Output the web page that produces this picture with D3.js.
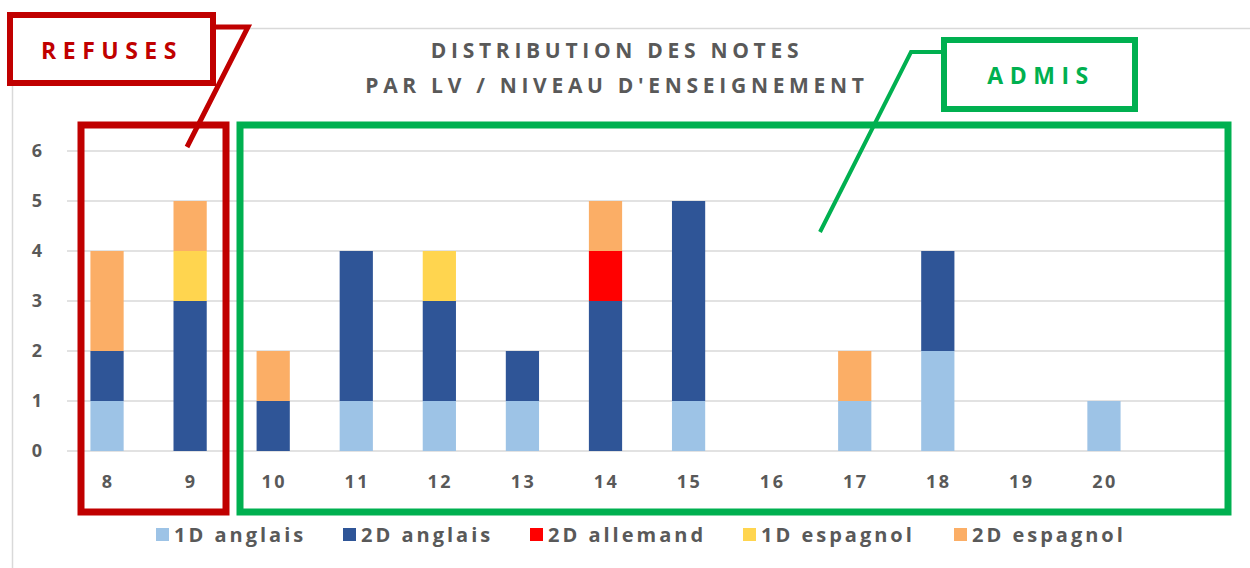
<!DOCTYPE html>
<html>
<head>
<meta charset="utf-8">
<script src="https://cdn.jsdelivr.net/npm/d3@7"></script>
<style>
  body { margin: 0; background: #fff; }
  svg { display: block; font-family: "Open Sans", sans-serif; }
  .tick-label { fill: #595959; font-weight: 700; }
</style>
</head>
<body>
<svg id="chart" width="1250" height="568"></svg>
<script>
// notes (x categories)
const notes = ["8", "9", "10", "11", "12", "13", "14", "15", "16", "17", "18", "19", "20"];
const seriesNames = ["1D anglais", "2D anglais", "2D allemand", "1D espagnol", "2D espagnol"];
const seriesColors = ["#9DC3E6", "#2F5597", "#FF0000", "#FFD54F", "#FBAE66"];

// counts per note, one array per series
const anglais1D  = [1, 0, 0, 1, 1, 1, 0, 1, 0, 1, 2, 0, 1];
const anglais2D  = [1, 3, 1, 3, 2, 1, 3, 4, 0, 0, 2, 0, 0];
const allemand2D = [0, 0, 0, 0, 0, 0, 1, 0, 0, 0, 0, 0, 0];
const espagnol1D = [0, 1, 0, 0, 1, 0, 0, 0, 0, 0, 0, 0, 0];
const espagnol2D = [2, 1, 1, 0, 0, 0, 1, 0, 0, 1, 0, 0, 0];

const yTicks = [0, 1, 2, 3, 4, 5, 6];

const titleLines = ["DISTRIBUTION DES NOTES", "PAR LV / NIVEAU D'ENSEIGNEMENT"];

function buildTable() {
  var cols = [anglais1D, anglais2D, allemand2D, espagnol1D, espagnol2D];
  return notes.map(function(n, i) {
    var row = { note: n };
    seriesNames.forEach(function(s, k) { row[s] = cols[k][i]; });
    return row;
  });
}

function drawChart() {
  var svg = d3.select("#chart");
  var table = buildTable();

  // outer chart frame (mostly off-page on right/bottom)
  svg.append("rect")
    .attr("x", 12.5).attr("y", 28.5)
    .attr("width", 1300).attr("height", 600)
    .attr("fill", "none").attr("stroke", "#d9d9d9").attr("stroke-width", 1.5);

  var xScale = d3.scaleBand()
    .domain(notes)
    .range([65.5, 1145.5])
    .paddingInner(0.6)
    .paddingOuter(0.3);

  var yScale = d3.scaleLinear()
    .domain([0, 6])
    .range([451, 151]);

  // gridlines
  svg.append("g")
    .selectAll("line")
    .data(yTicks)
    .enter().append("line")
    .attr("x1", 67).attr("x2", 1225)
    .attr("y1", function(d) { return yScale(d); })
    .attr("y2", function(d) { return yScale(d); })
    .attr("stroke", "#d9d9d9").attr("stroke-width", 1.5);

  // y labels
  svg.append("g")
    .selectAll("text")
    .data(yTicks)
    .enter().append("text")
    .attr("class", "tick-label")
    .attr("x", 42)
    .attr("y", function(d) { return yScale(d); })
    .attr("dy", "0.36em")
    .attr("text-anchor", "end")
    .style("font-size", "18px")
    .text(function(d) { return d; });

  // x labels
  svg.append("g")
    .selectAll("text")
    .data(notes)
    .enter().append("text")
    .attr("class", "tick-label")
    .attr("x", function(d) { return xScale(d) + xScale.bandwidth() / 2 + 1; })
    .attr("y", 488)
    .attr("text-anchor", "middle")
    .style("font-size", "18px")
    .style("letter-spacing", "2.5px")
    .text(function(d) { return d; });

  // stacked bars
  var stacked = d3.stack().keys(seriesNames)(table);
  svg.append("g")
    .selectAll("g")
    .data(stacked)
    .enter().append("g")
    .attr("fill", function(d, i) { return seriesColors[i]; })
    .selectAll("rect")
    .data(function(d) { return d; })
    .enter().append("rect")
    .attr("x", function(d) { return xScale(d.data.note); })
    .attr("y", function(d) { return yScale(d[1]); })
    .attr("width", xScale.bandwidth())
    .attr("height", function(d) { return yScale(d[0]) - yScale(d[1]); });

  // title
  svg.append("g")
    .selectAll("text")
    .data(titleLines)
    .enter().append("text")
    .attr("x", 617)
    .attr("y", function(d, i) { return 58 + i * 34.5; })
    .attr("text-anchor", "middle")
    .attr("fill", "#595959")
    .style("font-size", "21px")
    .style("font-weight", "700")
    .style("letter-spacing", "4.7px")
    .text(function(d) { return d; });

  // legend
  var legendX = [156, 343, 530, 743, 954];
  var legend = svg.append("g")
    .selectAll("g")
    .data(seriesNames)
    .enter().append("g")
    .attr("transform", function(d, i) { return "translate(" + legendX[i] + ",535)"; });
  legend.append("rect")
    .attr("x", 0).attr("y", -7)
    .attr("width", 13).attr("height", 13)
    .attr("fill", function(d, i) { return seriesColors[i]; });
  legend.append("text")
    .attr("x", 18).attr("y", 0)
    .attr("dy", "0.36em")
    .attr("fill", "#595959")
    .style("font-size", "20px")
    .style("font-weight", "700")
    .style("letter-spacing", "3px")
    .text(function(d) { return d; });

  drawAnnotations(svg);
}

/**
 * Draws the REFUSES / ADMIS callouts and boxes.
 */
function drawAnnotations(svg) {
  var red = "#C00000";
  var green = "#00B050";

  // red callout line
  svg.append("path")
    .attr("d", "M213,27 L248,27 L187,147")
    .attr("fill", "none").attr("stroke", red).attr("stroke-width", 5);
  svg.append("rect")
    .attr("x", 10).attr("y", 15).attr("width", 203).attr("height", 68)
    .attr("fill", "#fff").attr("stroke", red).attr("stroke-width", 6);
  svg.append("text")
    .attr("x", 112).attr("y", 51).attr("dy", "0.36em")
    .attr("text-anchor", "middle").attr("fill", red)
    .style("font-size", "23px").style("font-weight", "700")
    .style("letter-spacing", "6.5px")
    .text("REFUSES");
  svg.append("rect")
    .attr("x", 81).attr("y", 125).attr("width", 145).attr("height", 387)
    .attr("fill", "none").attr("stroke", red).attr("stroke-width", 7);

  // green callout line
  svg.append("path")
    .attr("d", "M944,52 L911,52 L820,232")
    .attr("fill", "none").attr("stroke", green).attr("stroke-width", 4);
  svg.append("rect")
    .attr("x", 944).attr("y", 40).attr("width", 191).attr("height", 69)
    .attr("fill", "#fff").attr("stroke", green).attr("stroke-width", 6);
  svg.append("text")
    .attr("x", 1041).attr("y", 76).attr("dy", "0.36em")
    .attr("text-anchor", "middle").attr("fill", green)
    .style("font-size", "23px").style("font-weight", "700")
    .style("letter-spacing", "6.5px")
    .text("ADMIS");
  svg.append("rect")
    .attr("x", 240).attr("y", 125).attr("width", 988).attr("height", 387)
    .attr("fill", "none").attr("stroke", green).attr("stroke-width", 7);
}

drawChart();
</script>
</body>
</html>
